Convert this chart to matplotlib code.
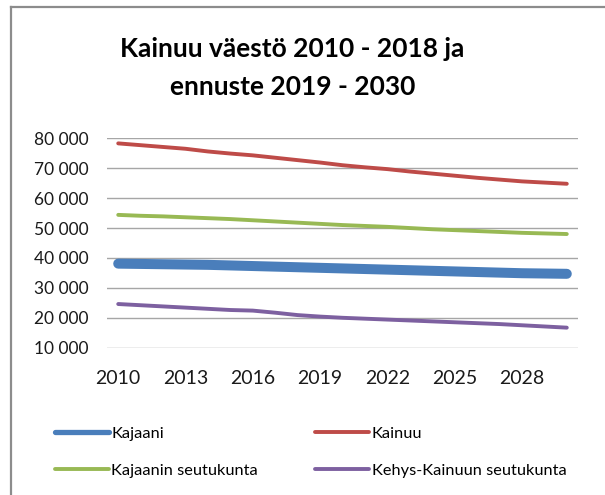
import numpy as np
import matplotlib.pyplot as plt
from matplotlib.lines import Line2D

plt.rcParams['font.family'] = ['Lato', 'DejaVu Sans']

years = np.arange(2010, 2031)
tick_years = [2010, 2013, 2016, 2019, 2022, 2025, 2028]

kajaani = [38100, 38000, 37900, 37800, 37700, 37500, 37300, 37100, 36900, 36700, 36500,
           36300, 36100, 35900, 35700, 35500, 35300, 35100, 34900, 34800, 34700]
kainuu = [78300, 77700, 77100, 76500, 75600, 74900, 74300, 73500, 72700, 71900, 71000,
          70300, 69700, 68900, 68200, 67500, 66800, 66200, 65600, 65200, 64800]
seutukunta = [54400, 54100, 53900, 53600, 53300, 53000, 52600, 52200, 51800, 51400, 51000,
              50700, 50400, 50000, 49600, 49300, 49000, 48700, 48400, 48200, 48000]
kehys = [24600, 24200, 23800, 23400, 23000, 22600, 22400, 21700, 20900, 20400, 20000,
         19700, 19400, 19100, 18800, 18500, 18200, 17900, 17500, 17100, 16700]

names = ['Kajaani', 'Kainuu', 'Kajaanin seutukunta', 'Kehys-Kainuun seutukunta']
colors = ['#4a7ebb', '#be4b48', '#98b954', '#7d60a0']
widths = [7.2, 2.8, 2.8, 2.8]

fig = plt.figure(figsize=(6.05, 4.95), dpi=100)
ax = fig.add_axes([107 / 605, 1 - 347.7 / 495, 471 / 605, 209.4 / 495])

for vals, c, lw in zip([kajaani, kainuu, seutukunta, kehys], colors, widths):
    ax.plot(years, vals, color=c, lw=lw, solid_capstyle='round', zorder=3)

ax.set_xlim(2009.5, 2030.5)
ax.set_ylim(10000, 80000)
ax.set_yticks(range(10000, 80001, 10000))
ax.set_yticklabels([f'{v // 1000} 000' for v in range(10000, 80001, 10000)])
ax.set_xticks(tick_years)
ax.set_xticklabels([str(y) for y in tick_years])
ax.tick_params(axis='y', length=0, pad=13, labelsize=12.5, labelcolor='#1a1a1a')
ax.tick_params(axis='x', length=0, pad=16, labelsize=14, labelcolor='#1a1a1a')
ax.grid(axis='y', color='#a6a6a6', lw=1.0)
ax.set_axisbelow(True)
for s in ax.spines.values():
    s.set_visible(False)

fig.text(0.483, 1 - 49 / 495, 'Kainuu väestö 2010 - 2018 ja', ha='center', va='center',
         fontsize=19, fontweight='bold')
fig.text(0.483, 1 - 87 / 495, 'ennuste 2019 - 2030', ha='center', va='center',
         fontsize=19, fontweight='bold')

# legend, filled column by column
order = [0, 2, 1, 3]
handles = [Line2D([], [], color=colors[i], lw=3.8 if i == 0 else 2.8, solid_capstyle='round')
           for i in order]
fig.legend(handles, [names[i] for i in order], ncol=2, loc='upper left',
           bbox_to_anchor=(40 / 605, 1 - 412 / 495), frameon=False, fontsize=11.8,
           handlelength=3.3, handletextpad=0.15, columnspacing=3.5, labelspacing=1.35)

# frame of the chart area
fig.add_artist(Line2D([11 / 605, 11 / 605], [0, 1 - 7 / 495], color='#8c8c8c', lw=1.6))
fig.add_artist(Line2D([11 / 605, 1], [1 - 7 / 495, 1 - 7 / 495], color='#8c8c8c', lw=1.6))

fig.savefig('out.png', dpi=100)
